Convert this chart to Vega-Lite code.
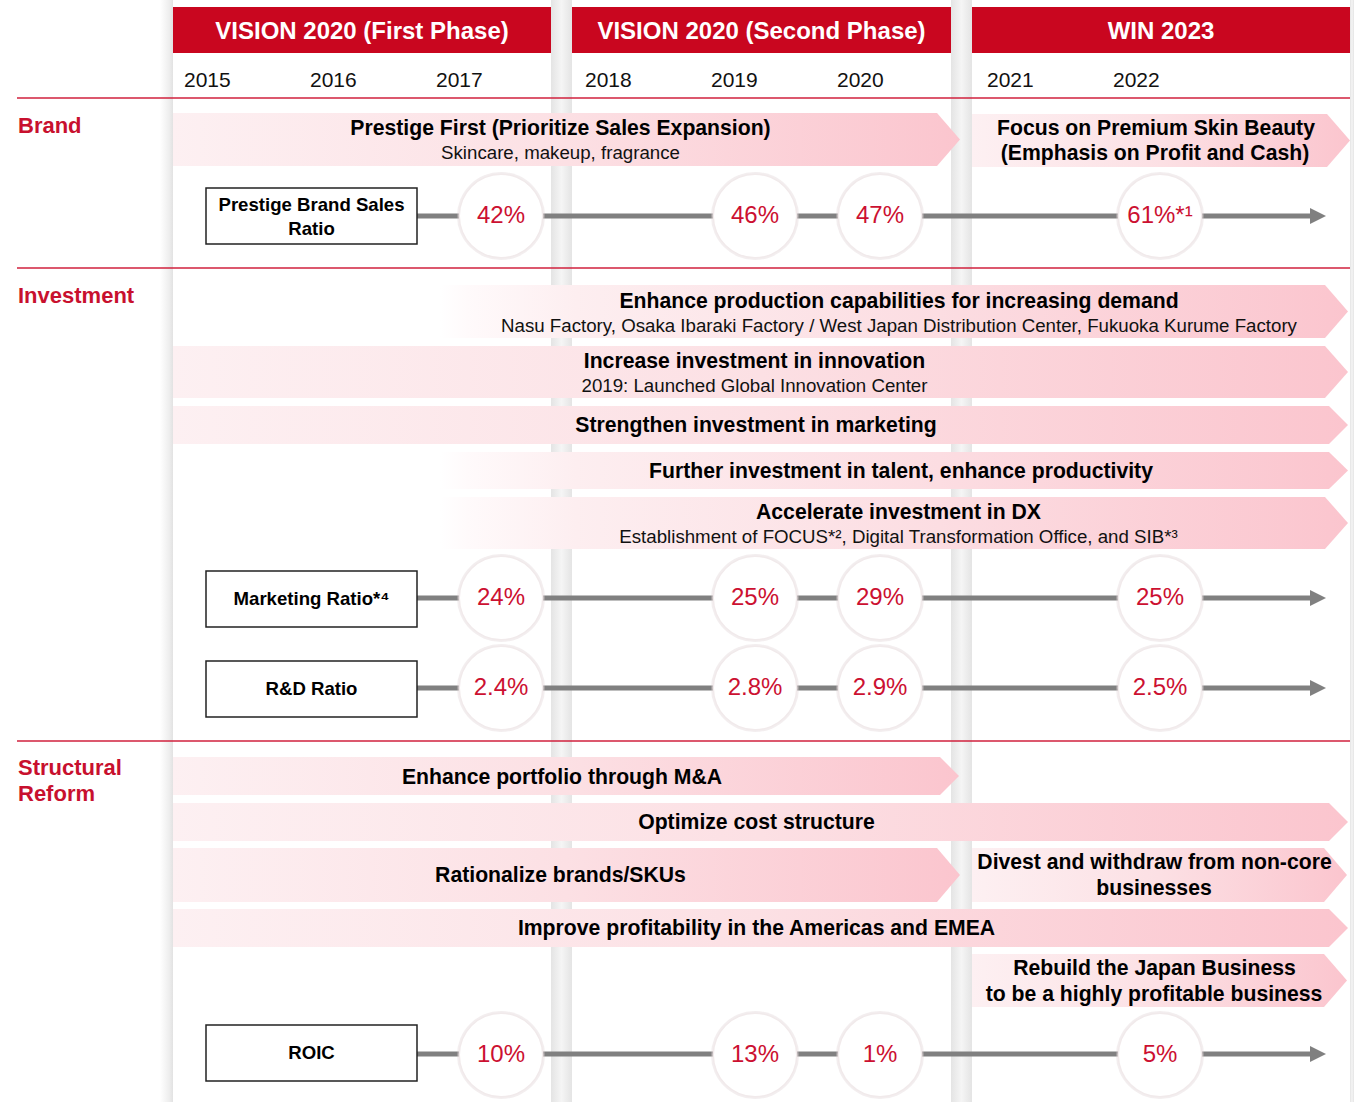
{
 "$schema": "https://vega.github.io/schema/vega-lite/v6.json",
 "width": 1354, "height": 1102,
 "autosize": {"type": "fit", "contains": "padding"},
 "padding": 0,
 "background": "#ffffff",
 "config": {"view": {"stroke": null}, "font": "Liberation Sans", "text": {"font": "Liberation Sans"}},
 "datasets": {
  "gutters": [{"x": 551, "x2": 572}, {"x": 951, "x2": 972}, {"x": 1350, "x2": 1354}],
  "edges": [{"x": 160, "x2": 173}],
  "phases": [
   {"phase": "VISION 2020 (First Phase)", "x": 173, "x2": 551, "mid": 362},
   {"phase": "VISION 2020 (Second Phase)", "x": 572, "x2": 951, "mid": 761.5},
   {"phase": "WIN 2023", "x": 972, "x2": 1350, "mid": 1161}
  ],
  "years": [
   {"year": "2015", "x": 184}, {"year": "2016", "x": 310}, {"year": "2017", "x": 436},
   {"year": "2018", "x": 585}, {"year": "2019", "x": 711}, {"year": "2020", "x": 837},
   {"year": "2021", "x": 987}, {"year": "2022", "x": 1113}
  ],
  "dividers": [{"y": 98}, {"y": 268}, {"y": 741}],
  "sections": [
   {"section": "Brand", "y": 126}, {"section": "Investment", "y": 296},
   {"section": "Structural", "y": 768}, {"section": "Reform", "y": 794}
  ],
  "bannerShapes": [
   {"banner": "Prestige First", "x": 173, "top": 113, "bottom": 166},
   {"banner": "Prestige First", "x": 937, "top": 113, "bottom": 166},
   {"banner": "Prestige First", "x": 960, "top": 139.5, "bottom": 139.5},
   {"banner": "Premium Skin Beauty", "x": 972, "top": 114, "bottom": 167},
   {"banner": "Premium Skin Beauty", "x": 1327, "top": 114, "bottom": 167},
   {"banner": "Premium Skin Beauty", "x": 1350, "top": 140.5, "bottom": 140.5},
   {"banner": "Innovation", "x": 173, "top": 346, "bottom": 398},
   {"banner": "Innovation", "x": 1325, "top": 346, "bottom": 398},
   {"banner": "Innovation", "x": 1348, "top": 372, "bottom": 372},
   {"banner": "Marketing", "x": 173, "top": 406, "bottom": 444},
   {"banner": "Marketing", "x": 1329, "top": 406, "bottom": 444},
   {"banner": "Marketing", "x": 1348, "top": 425, "bottom": 425},
   {"banner": "M&A", "x": 173, "top": 757, "bottom": 795},
   {"banner": "M&A", "x": 940, "top": 757, "bottom": 795},
   {"banner": "M&A", "x": 959, "top": 776, "bottom": 776},
   {"banner": "Cost", "x": 173, "top": 803, "bottom": 841},
   {"banner": "Cost", "x": 1329, "top": 803, "bottom": 841},
   {"banner": "Cost", "x": 1348, "top": 822, "bottom": 822},
   {"banner": "Rationalize", "x": 173, "top": 848, "bottom": 902},
   {"banner": "Rationalize", "x": 937, "top": 848, "bottom": 902},
   {"banner": "Rationalize", "x": 960, "top": 875, "bottom": 875},
   {"banner": "Divest", "x": 972, "top": 848, "bottom": 902},
   {"banner": "Divest", "x": 1324, "top": 848, "bottom": 902},
   {"banner": "Divest", "x": 1347, "top": 875, "bottom": 875},
   {"banner": "Americas EMEA", "x": 173, "top": 909, "bottom": 947},
   {"banner": "Americas EMEA", "x": 1329, "top": 909, "bottom": 947},
   {"banner": "Americas EMEA", "x": 1348, "top": 928, "bottom": 928},
   {"banner": "Japan", "x": 972, "top": 954, "bottom": 1007},
   {"banner": "Japan", "x": 1324, "top": 954, "bottom": 1007},
   {"banner": "Japan", "x": 1347, "top": 980.5, "bottom": 980.5}
  ],
  "fadeBannerShapes": [
   {"banner": "Production", "x": 440, "top": 285, "bottom": 338},
   {"banner": "Production", "x": 1325, "top": 285, "bottom": 338},
   {"banner": "Production", "x": 1348, "top": 311.5, "bottom": 311.5},
   {"banner": "Talent", "x": 440, "top": 452, "bottom": 489},
   {"banner": "Talent", "x": 1329, "top": 452, "bottom": 489},
   {"banner": "Talent", "x": 1348, "top": 470.5, "bottom": 470.5},
   {"banner": "DX", "x": 440, "top": 497, "bottom": 549},
   {"banner": "DX", "x": 1325, "top": 497, "bottom": 549},
   {"banner": "DX", "x": 1348, "top": 523, "bottom": 523}
  ],
  "bannerTitles": [
   {"text": "Prestige First (Prioritize Sales Expansion)", "x": 560.5, "y": 129},
   {"text": "Focus on Premium Skin Beauty", "x": 1156, "y": 129},
   {"text": "(Emphasis on Profit and Cash)", "x": 1155, "y": 154},
   {"text": "Enhance production capabilities for increasing demand", "x": 899, "y": 302},
   {"text": "Increase investment in innovation", "x": 754.5, "y": 362},
   {"text": "Strengthen investment in marketing", "x": 756, "y": 426},
   {"text": "Further investment in talent, enhance productivity", "x": 901, "y": 472},
   {"text": "Accelerate investment in DX", "x": 898.5, "y": 513},
   {"text": "Enhance portfolio through M&A", "x": 562, "y": 778},
   {"text": "Optimize cost structure", "x": 756.5, "y": 823},
   {"text": "Rationalize brands/SKUs", "x": 560.5, "y": 876},
   {"text": "Divest and withdraw from non-core", "x": 1154.5, "y": 863},
   {"text": "businesses", "x": 1154, "y": 889},
   {"text": "Improve profitability in the Americas and EMEA", "x": 756.5, "y": 929},
   {"text": "Rebuild the Japan Business", "x": 1154.5, "y": 969},
   {"text": "to be a highly profitable business", "x": 1154, "y": 995}
  ],
  "bannerSubs": [
   {"text": "Skincare, makeup, fragrance", "x": 560.5, "y": 153},
   {"text": "Nasu Factory, Osaka Ibaraki Factory / West Japan Distribution Center, Fukuoka Kurume Factory", "x": 899, "y": 326},
   {"text": "2019: Launched Global Innovation Center", "x": 754.5, "y": 386},
   {"text": "Establishment of FOCUS*², Digital Transformation Office, and SIB*³", "x": 898.5, "y": 537}
  ],
  "metrics": [
   {"metric": "Prestige Brand Sales Ratio", "y": 216, "top": 188, "bottom": 244},
   {"metric": "Marketing Ratio", "y": 598, "top": 571, "bottom": 627},
   {"metric": "R&D Ratio", "y": 688, "top": 661, "bottom": 717},
   {"metric": "ROIC", "y": 1054, "top": 1025, "bottom": 1081}
  ],
  "boxLabels": [
   {"text": "Prestige Brand Sales", "y": 205},
   {"text": "Ratio", "y": 229},
   {"text": "Marketing Ratio*⁴", "y": 599},
   {"text": "R&D Ratio", "y": 689},
   {"text": "ROIC", "y": 1053}
  ],
  "values": [
   {"metric": "Prestige Brand Sales Ratio", "x": 501, "y": 216, "label": "42%"},
   {"metric": "Prestige Brand Sales Ratio", "x": 755, "y": 216, "label": "46%"},
   {"metric": "Prestige Brand Sales Ratio", "x": 880, "y": 216, "label": "47%"},
   {"metric": "Prestige Brand Sales Ratio", "x": 1160, "y": 216, "label": "61%*¹"},
   {"metric": "Marketing Ratio", "x": 501, "y": 598, "label": "24%"},
   {"metric": "Marketing Ratio", "x": 755, "y": 598, "label": "25%"},
   {"metric": "Marketing Ratio", "x": 880, "y": 598, "label": "29%"},
   {"metric": "Marketing Ratio", "x": 1160, "y": 598, "label": "25%"},
   {"metric": "R&D Ratio", "x": 501, "y": 688, "label": "2.4%"},
   {"metric": "R&D Ratio", "x": 755, "y": 688, "label": "2.8%"},
   {"metric": "R&D Ratio", "x": 880, "y": 688, "label": "2.9%"},
   {"metric": "R&D Ratio", "x": 1160, "y": 688, "label": "2.5%"},
   {"metric": "ROIC", "x": 501, "y": 1055, "label": "10%"},
   {"metric": "ROIC", "x": 755, "y": 1055, "label": "13%"},
   {"metric": "ROIC", "x": 880, "y": 1055, "label": "1%"},
   {"metric": "ROIC", "x": 1160, "y": 1055, "label": "5%"}
  ]
 },
 "layer": [
  {
   "data": {"name": "gutters"},
   "mark": {"type": "rect", "color": {"gradient": "linear", "x1": 0, "y1": 0, "x2": 1, "y2": 0, "stops": [{"offset": 0, "color": "#e4e4e4"}, {"offset": 0.5, "color": "#f5f5f5"}, {"offset": 1, "color": "#e4e4e4"}]}},
   "encoding": {
    "x": {"field": "x", "type": "quantitative", "scale": {"domain": [0, 1354], "nice": false, "zero": false}, "axis": null},
    "x2": {"field": "x2"},
    "y": {"datum": 0, "type": "quantitative", "scale": {"domain": [0, 1102], "nice": false, "zero": false, "reverse": true}, "axis": null},
    "y2": {"datum": 1102}
   }
  },
  {
   "data": {"name": "edges"},
   "mark": {"type": "rect", "color": {"gradient": "linear", "x1": 0, "y1": 0, "x2": 1, "y2": 0, "stops": [{"offset": 0, "color": "#ffffff"}, {"offset": 0.7, "color": "#eeeeee"}, {"offset": 1, "color": "#e2e2e2"}]}},
   "encoding": {
    "x": {"field": "x", "type": "quantitative", "scale": {"domain": [0, 1354], "nice": false, "zero": false}, "axis": null},
    "x2": {"field": "x2"},
    "y": {"datum": 0, "type": "quantitative", "scale": {"domain": [0, 1102], "nice": false, "zero": false, "reverse": true}, "axis": null},
    "y2": {"datum": 1102}
   }
  },
  {
   "data": {"name": "phases"},
   "mark": {"type": "rect", "color": "#c9061f"},
   "encoding": {
    "x": {"field": "x", "type": "quantitative", "scale": {"domain": [0, 1354], "nice": false, "zero": false}, "axis": null},
    "x2": {"field": "x2"},
    "y": {"datum": 7, "type": "quantitative", "scale": {"domain": [0, 1102], "nice": false, "zero": false, "reverse": true}, "axis": null},
    "y2": {"datum": 53}
   }
  },
  {
   "data": {"name": "phases"},
   "mark": {"type": "text", "color": "#ffffff", "fontWeight": "bold", "fontSize": 24, "align": "center", "baseline": "middle"},
   "encoding": {
    "x": {"field": "mid", "type": "quantitative", "scale": {"domain": [0, 1354], "nice": false, "zero": false}, "axis": null},
    "y": {"datum": 31.5, "type": "quantitative", "scale": {"domain": [0, 1102], "nice": false, "zero": false, "reverse": true}, "axis": null},
    "text": {"field": "phase"}
   }
  },
  {
   "data": {"name": "years"},
   "mark": {"type": "text", "color": "#111111", "fontSize": 21, "align": "left", "baseline": "middle"},
   "encoding": {
    "x": {"field": "x", "type": "quantitative", "scale": {"domain": [0, 1354], "nice": false, "zero": false}, "axis": null},
    "y": {"datum": 80.5, "type": "quantitative", "scale": {"domain": [0, 1102], "nice": false, "zero": false, "reverse": true}, "axis": null},
    "text": {"field": "year"}
   }
  },
  {
   "data": {"name": "bannerShapes"},
   "mark": {"type": "area", "orient": "vertical", "interpolate": "linear", "color": {"gradient": "linear", "x1": 0, "y1": 0, "x2": 1, "y2": 0, "stops": [{"offset": 0, "color": "#fdf0f2"}, {"offset": 0.5, "color": "#fce0e4"}, {"offset": 1, "color": "#fbc5ce"}]}},
   "encoding": {
    "x": {"field": "x", "type": "quantitative", "scale": {"domain": [0, 1354], "nice": false, "zero": false}, "axis": null},
    "y": {"field": "top", "type": "quantitative", "stack": null, "scale": {"domain": [0, 1102], "nice": false, "zero": false, "reverse": true}, "axis": null},
    "y2": {"field": "bottom"},
    "detail": {"field": "banner", "type": "nominal"}
   }
  },
  {
   "data": {"name": "fadeBannerShapes"},
   "mark": {"type": "area", "orient": "vertical", "interpolate": "linear", "color": {"gradient": "linear", "x1": 0, "y1": 0, "x2": 1, "y2": 0, "stops": [{"offset": 0, "color": "#ffffff"}, {"offset": 0.03, "color": "#fffafb"}, {"offset": 0.15, "color": "#fdeef0"}, {"offset": 0.55, "color": "#fcdde2"}, {"offset": 1, "color": "#fbc5ce"}]}},
   "encoding": {
    "x": {"field": "x", "type": "quantitative", "scale": {"domain": [0, 1354], "nice": false, "zero": false}, "axis": null},
    "y": {"field": "top", "type": "quantitative", "stack": null, "scale": {"domain": [0, 1102], "nice": false, "zero": false, "reverse": true}, "axis": null},
    "y2": {"field": "bottom"},
    "detail": {"field": "banner", "type": "nominal"}
   }
  },
  {
   "data": {"name": "dividers"},
   "mark": {"type": "rule", "color": "#d0213d", "strokeWidth": 1.5},
   "encoding": {
    "x": {"datum": 17, "type": "quantitative", "scale": {"domain": [0, 1354], "nice": false, "zero": false}, "axis": null},
    "x2": {"datum": 1350},
    "y": {"field": "y", "type": "quantitative", "scale": {"domain": [0, 1102], "nice": false, "zero": false, "reverse": true}, "axis": null}
   }
  },
  {
   "data": {"name": "sections"},
   "mark": {"type": "text", "color": "#c8102e", "fontWeight": "bold", "fontSize": 22, "align": "left", "baseline": "middle"},
   "encoding": {
    "x": {"datum": 18, "type": "quantitative", "scale": {"domain": [0, 1354], "nice": false, "zero": false}, "axis": null},
    "y": {"field": "y", "type": "quantitative", "scale": {"domain": [0, 1102], "nice": false, "zero": false, "reverse": true}, "axis": null},
    "text": {"field": "section"}
   }
  },
  {
   "data": {"name": "bannerTitles"},
   "mark": {"type": "text", "color": "#000000", "fontWeight": "bold", "fontSize": 21.2, "align": "center", "baseline": "middle"},
   "encoding": {
    "x": {"field": "x", "type": "quantitative", "scale": {"domain": [0, 1354], "nice": false, "zero": false}, "axis": null},
    "y": {"field": "y", "type": "quantitative", "scale": {"domain": [0, 1102], "nice": false, "zero": false, "reverse": true}, "axis": null},
    "text": {"field": "text"}
   }
  },
  {
   "data": {"name": "bannerSubs"},
   "mark": {"type": "text", "color": "#111111", "fontSize": 18.7, "align": "center", "baseline": "middle"},
   "encoding": {
    "x": {"field": "x", "type": "quantitative", "scale": {"domain": [0, 1354], "nice": false, "zero": false}, "axis": null},
    "y": {"field": "y", "type": "quantitative", "scale": {"domain": [0, 1102], "nice": false, "zero": false, "reverse": true}, "axis": null},
    "text": {"field": "text"}
   }
  },
  {
   "data": {"name": "metrics"},
   "mark": {"type": "rule", "color": "#808080", "strokeWidth": 5},
   "encoding": {
    "x": {"datum": 417, "type": "quantitative", "scale": {"domain": [0, 1354], "nice": false, "zero": false}, "axis": null},
    "x2": {"datum": 1312},
    "y": {"field": "y", "type": "quantitative", "scale": {"domain": [0, 1102], "nice": false, "zero": false, "reverse": true}, "axis": null}
   }
  },
  {
   "data": {"name": "metrics"},
   "mark": {"type": "point", "shape": "M-1,-1L1,0L-1,1Z", "size": 256, "filled": true, "color": "#808080", "opacity": 1},
   "encoding": {
    "x": {"datum": 1318, "type": "quantitative", "scale": {"domain": [0, 1354], "nice": false, "zero": false}, "axis": null},
    "y": {"field": "y", "type": "quantitative", "scale": {"domain": [0, 1102], "nice": false, "zero": false, "reverse": true}, "axis": null}
   }
  },
  {
   "data": {"name": "metrics"},
   "mark": {"type": "rect", "fill": "#ffffff", "stroke": "#222222", "strokeWidth": 1.5},
   "encoding": {
    "x": {"datum": 206, "type": "quantitative", "scale": {"domain": [0, 1354], "nice": false, "zero": false}, "axis": null},
    "x2": {"datum": 417},
    "y": {"field": "top", "type": "quantitative", "scale": {"domain": [0, 1102], "nice": false, "zero": false, "reverse": true}, "axis": null},
    "y2": {"field": "bottom"}
   }
  },
  {
   "data": {"name": "boxLabels"},
   "mark": {"type": "text", "color": "#000000", "fontWeight": "bold", "fontSize": 18.6, "align": "center", "baseline": "middle"},
   "encoding": {
    "x": {"datum": 311.5, "type": "quantitative", "scale": {"domain": [0, 1354], "nice": false, "zero": false}, "axis": null},
    "y": {"field": "y", "type": "quantitative", "scale": {"domain": [0, 1102], "nice": false, "zero": false, "reverse": true}, "axis": null},
    "text": {"field": "text"}
   }
  },
  {
   "data": {"name": "values"},
   "mark": {"type": "point", "shape": "circle", "size": 7744, "filled": true, "color": "#dccfd1", "opacity": 0.35},
   "encoding": {
    "x": {"field": "x", "type": "quantitative", "scale": {"domain": [0, 1354], "nice": false, "zero": false}, "axis": null},
    "y": {"field": "y", "type": "quantitative", "scale": {"domain": [0, 1102], "nice": false, "zero": false, "reverse": true}, "axis": null}
   }
  },
  {
   "data": {"name": "values"},
   "mark": {"type": "point", "shape": "circle", "size": 7225, "filled": true, "color": "#f1eaeb", "opacity": 1},
   "encoding": {
    "x": {"field": "x", "type": "quantitative", "scale": {"domain": [0, 1354], "nice": false, "zero": false}, "axis": null},
    "y": {"field": "y", "type": "quantitative", "scale": {"domain": [0, 1102], "nice": false, "zero": false, "reverse": true}, "axis": null}
   }
  },
  {
   "data": {"name": "values"},
   "mark": {"type": "point", "shape": "circle", "size": 6724, "filled": true, "color": "#ffffff", "opacity": 1},
   "encoding": {
    "x": {"field": "x", "type": "quantitative", "scale": {"domain": [0, 1354], "nice": false, "zero": false}, "axis": null},
    "y": {"field": "y", "type": "quantitative", "scale": {"domain": [0, 1102], "nice": false, "zero": false, "reverse": true}, "axis": null}
   }
  },
  {
   "data": {"name": "values"},
   "mark": {"type": "text", "color": "#cc1031", "fontSize": 24, "align": "center", "baseline": "middle"},
   "encoding": {
    "x": {"field": "x", "type": "quantitative", "scale": {"domain": [0, 1354], "nice": false, "zero": false}, "axis": null},
    "y": {"field": "y", "type": "quantitative", "scale": {"domain": [0, 1102], "nice": false, "zero": false, "reverse": true}, "axis": null},
    "text": {"field": "label"}
   }
  }
 ]
}
